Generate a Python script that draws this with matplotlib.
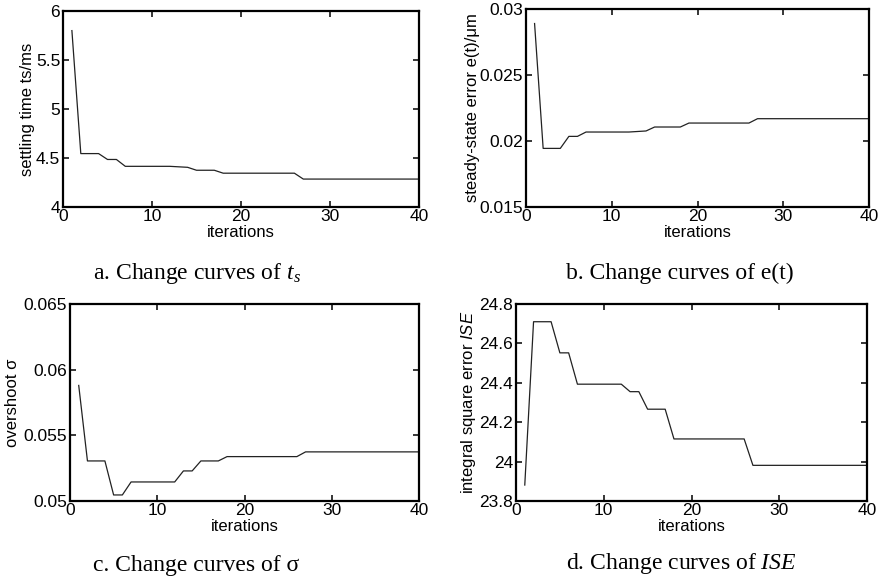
import matplotlib
matplotlib.use("Agg")
import matplotlib.pyplot as plt
import numpy as np

plt.rcParams['font.family'] = ['Liberation Sans', 'DejaVu Sans']
plt.rcParams['mathtext.fontset'] = 'custom'
plt.rcParams['mathtext.rm'] = 'Liberation Serif'
plt.rcParams['mathtext.it'] = 'Liberation Serif:italic'
plt.rcParams['mathtext.sf'] = 'Liberation Sans:italic'

iterations = list(range(1, 41))

settling_time = [5.80, 4.545, 4.545, 4.545, 4.485, 4.485, 4.415, 4.415, 4.415, 4.415,
                 4.415, 4.415, 4.41, 4.405, 4.375, 4.375, 4.375, 4.345, 4.345, 4.345,
                 4.345, 4.345, 4.345, 4.345, 4.345, 4.345, 4.285, 4.285, 4.285, 4.285,
                 4.285, 4.285, 4.285, 4.285, 4.285, 4.285, 4.285, 4.285, 4.285, 4.285]

steady_error = [0.0289, 0.01944, 0.01944, 0.01944, 0.02035, 0.02035, 0.02068, 0.02068, 0.02068, 0.02068,
                0.02068, 0.02068, 0.02072, 0.02076, 0.02106, 0.02106, 0.02106, 0.02106, 0.02136, 0.02136,
                0.02136, 0.02136, 0.02136, 0.02136, 0.02136, 0.02136, 0.02169, 0.02169, 0.02169, 0.02169,
                0.02169, 0.02169, 0.02169, 0.02169, 0.02169, 0.02169, 0.02169, 0.02169, 0.02169, 0.02169]

overshoot = [0.0588, 0.05305, 0.05305, 0.05305, 0.05046, 0.05046, 0.05145, 0.05145, 0.05145, 0.05145,
             0.05145, 0.05145, 0.05229, 0.05229, 0.05305, 0.05305, 0.05305, 0.05338, 0.05338, 0.05338,
             0.05338, 0.05338, 0.05338, 0.05338, 0.05338, 0.05338, 0.05374, 0.05374, 0.05374, 0.05374,
             0.05374, 0.05374, 0.05374, 0.05374, 0.05374, 0.05374, 0.05374, 0.05374, 0.05374, 0.05374]

ise = [23.881, 24.71, 24.71, 24.71, 24.552, 24.552, 24.393, 24.393, 24.393, 24.393,
       24.393, 24.393, 24.355, 24.355, 24.266, 24.266, 24.266, 24.115, 24.115, 24.115,
       24.115, 24.115, 24.115, 24.115, 24.115, 24.115, 23.981, 23.981, 23.981, 23.981,
       23.981, 23.981, 23.981, 23.981, 23.981, 23.981, 23.981, 23.981, 23.981, 23.981]

x_ticks = [0, 10, 20, 30, 40]
x_tick_labels = ['0', '10', '20', '30', '40']

a_ticks = [4, 4.5, 5, 5.5, 6]
a_labels = ['4', '4.5', '5', '5.5', '6']
b_ticks = [0.015, 0.02, 0.025, 0.03]
b_labels = ['0.015', '0.02', '0.025', '0.03']
c_ticks = [0.05, 0.055, 0.06, 0.065]
c_labels = ['0.05', '0.055', '0.06', '0.065']
d_ticks = [23.8, 24.0, 24.2, 24.4, 24.6, 24.8]
d_labels = ['23.8', '24', '24.2', '24.4', '24.6', '24.8']

y_labels = ['settling time ts/ms', 'steady-state error e(t)/\u03bcm',
            'overshoot \u03c3', r'integral square error $\mathsf{ISE}$']
captions = ['a. Change curves of $t_s$', 'b. Change curves of e(t)',
            'c. Change curves of \u03c3', 'd. Change curves of $ISE$']

W, H = 883, 582
fig = plt.figure(figsize=(W / 100, H / 100), dpi=100)

def px_axes(l, t, r, b):
    return fig.add_axes([l / W, 1 - b / H, (r - l) / W, (b - t) / H])

# (axes box px, ylabel centre x px, caption centre px)
layout = [
    ((63, 11, 419, 207), 28, (197, 273)),
    ((526, 9, 869, 207), 472, (680, 273)),
    ((70, 304, 419, 501), 13, (196, 565)),
    ((516, 304, 867, 501), 468, (681, 564)),
]
series = [settling_time, steady_error, overshoot, ise]
yticks = [a_ticks, b_ticks, c_ticks, d_ticks]
ytlabels = [a_labels, b_labels, c_labels, d_labels]

for i, ((l, t, r, b), ylx, (cx, cy)) in enumerate(layout):
    ax = px_axes(l, t, r, b)
    ax.plot(iterations, series[i], color='#222222', lw=0.9)
    ax.set_xlim(0, 40)
    ax.set_ylim(yticks[i][0], yticks[i][-1])
    ax.set_xticks(x_ticks)
    ax.set_xticklabels(x_tick_labels)
    ax.set_yticks(yticks[i])
    ax.set_yticklabels(ytlabels[i])
    ax.tick_params(direction='in', top=True, right=True, length=4.5, width=1.1,
                   labelsize=12.5, pad=1.5)
    ax.tick_params(axis='y', pad=2)
    for s in ax.spines.values():
        s.set_linewidth(1.6)
    ax.set_xlabel('iterations', fontsize=12, labelpad=1)
    fig.text(ylx / W, 1 - (t + b) / 2 / H, y_labels[i], rotation=90,
             ha='center', va='center', fontsize=12)
    fig.text(cx / W, 1 - cy / H, captions[i], ha='center', va='center', fontsize=17,
             family=['Liberation Serif', 'DejaVu Serif'])

fig.savefig('out.png', dpi=100)
